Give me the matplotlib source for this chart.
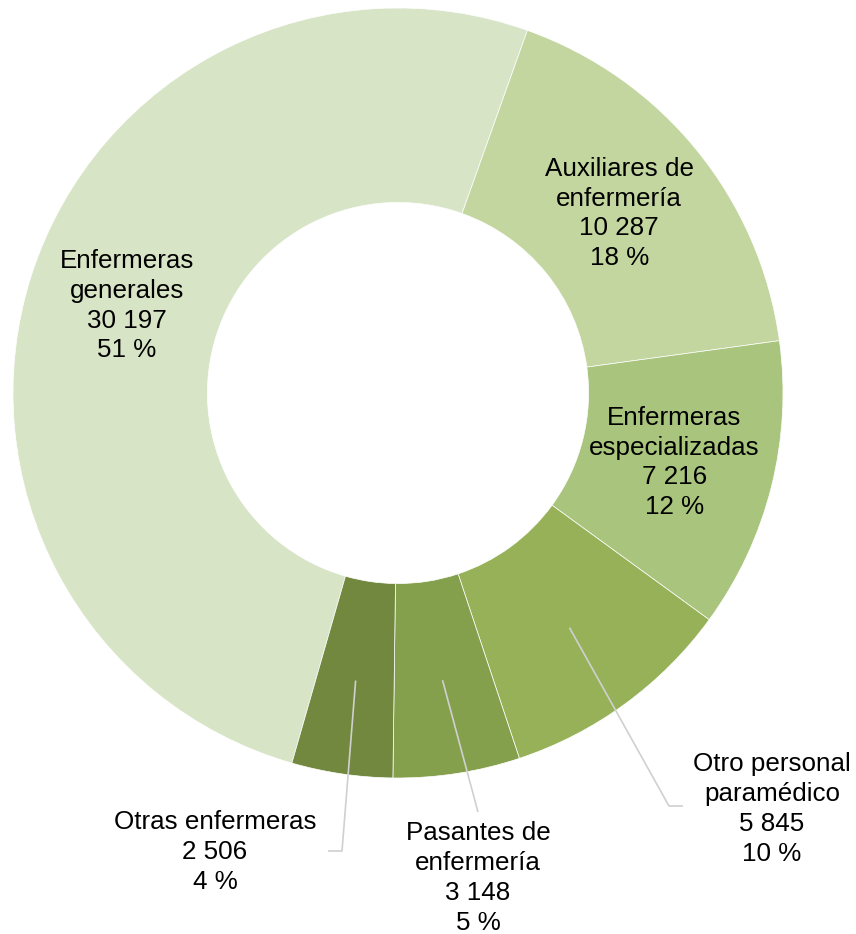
import matplotlib

matplotlib.use("Agg")
import matplotlib.pyplot as plt
import numpy as np

categories = ["Enfermeras\ngenerales", "Auxiliares de\nenfermería", "Enfermeras\nespecializadas",
              "Otro personal\nparamédico", "Pasantes de\nenfermería", "Otras enfermeras"]
counts = [30197, 10287, 7216, 5845, 3148, 2506]
count_labels = ["30 197", "10 287", "7 216", "5 845", "3 148", "2 506"]
pct_labels = [51, 18, 12, 10, 5, 4]
colors = ["#D7E4C5", "#C3D69F", "#A9C47D", "#96B158", "#85A04C", "#71883E"]

W, H = 856, 934
CX, CY, R = 398, 393, 385


def py(y):
    # pixel row from top -> data y
    return H - y


plt.rcParams["font.family"] = ["Liberation Sans", "DejaVu Sans"]
fig = plt.figure(figsize=(W / 100, H / 100), dpi=100)
ax = fig.add_axes([0, 0, 1, 1])

wedges, _ = ax.pie(counts, colors=colors, startangle=-106, counterclock=False,
                   center=(CX, py(CY)), radius=R,
                   wedgeprops=dict(width=R * 0.505, edgecolor="white", linewidth=0.5))
# pie() resets the limits, so set them afterwards
ax.set_xlim(0, W)
ax.set_ylim(0, H)
ax.set_aspect("equal")
ax.axis("off")

texts = [f"{c}\n{n}\n{p} %" for c, n, p in zip(categories, count_labels, pct_labels)]
fs = 18.7
ls = 1.3

# inside labels
for i in range(3):
    w = wedges[i]
    ang = np.deg2rad((w.theta1 + w.theta2) / 2)
    x = CX + 0.74 * R * np.cos(ang)
    y = py(CY) + 0.74 * R * np.sin(ang)
    ax.text(x, y, texts[i], ha="center", va="center", fontsize=fs, linespacing=ls)

# outside labels with leader lines: (text center, leader end points)
outside = {
    3: ((772, 809), [(669, 806), (683, 806)]),
    4: ((478, 878), [(478, 812)]),
    5: ((215, 852), [(342, 851), (328, 851)]),
}
for i, ((tx, ty), pts) in outside.items():
    w = wedges[i]
    ang = np.deg2rad((w.theta1 + w.theta2) / 2)
    x0 = CX + 0.755 * R * np.cos(ang)
    y0 = py(CY) + 0.755 * R * np.sin(ang)
    xs = [x0] + [p[0] for p in pts]
    ys = [y0] + [py(p[1]) for p in pts]
    ax.plot(xs, ys, color="#D0D0D0", lw=1.2, solid_capstyle="butt")
    ax.text(tx, py(ty), texts[i], ha="center", va="center", fontsize=fs, linespacing=ls)

fig.savefig("out.png", dpi=100)
